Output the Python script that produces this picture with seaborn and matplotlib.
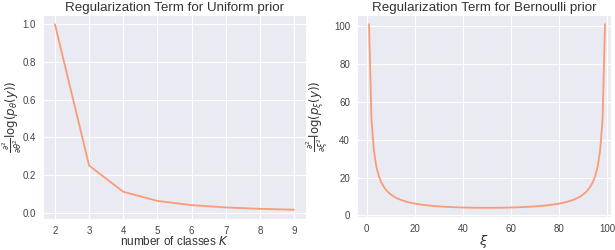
import matplotlib
matplotlib.use("Agg")
import matplotlib.pyplot as plt
import seaborn as sns
import pandas as pd

# left panel: number of classes vs regularization term
classes_k = [2, 3, 4, 5, 6, 7, 8, 9]
uniform_term = [1.0, 0.25, 0.111, 0.0625, 0.04, 0.0278, 0.0204, 0.0156]

# right panel: xi (1..99) vs regularization term
xi = list(range(1, 100))
bernoulli_term = [
    101.01, 51.02, 34.36, 26.04, 21.05, 17.73, 15.36, 13.59, 12.21, 11.11,
    10.21, 9.47, 8.84, 8.31, 7.84, 7.44, 7.09, 6.78, 6.50, 6.25,
    6.03, 5.83, 5.65, 5.48, 5.33, 5.20, 5.07, 4.96, 4.86, 4.76,
    4.68, 4.60, 4.52, 4.46, 4.40, 4.34, 4.29, 4.24, 4.20, 4.17,
    4.13, 4.11, 4.08, 4.06, 4.04, 4.03, 4.01, 4.01, 4.00, 4.00,
    4.00, 4.01, 4.01, 4.03, 4.04, 4.06, 4.08, 4.11, 4.13, 4.17,
    4.20, 4.24, 4.29, 4.34, 4.40, 4.46, 4.52, 4.60, 4.68, 4.76,
    4.86, 4.96, 5.07, 5.20, 5.33, 5.48, 5.65, 5.83, 6.03, 6.25,
    6.50, 6.78, 7.09, 7.44, 7.84, 8.31, 8.84, 9.47, 10.21, 11.11,
    12.21, 13.59, 15.36, 17.73, 21.05, 26.04, 34.36, 51.02, 101.01,
]

line_color = "#fa9b78"
text_color = "#333333"

sns.set_style("darkgrid")
plt.rcParams["font.family"] = ["Liberation Sans", "DejaVu Sans"]
plt.rcParams["mathtext.fontset"] = "dejavusans"

fig, (ax1, ax2) = plt.subplots(1, 2, figsize=(6.15, 2.5), dpi=100)
ax1.set_position([43 / 615, 1 - 219 / 250, 263 / 615, 204 / 250])
ax2.set_position([357 / 615, 1 - 217 / 250, 254 / 615, 202 / 250])

uni_df = pd.DataFrame({"K": classes_k, "term": uniform_term})
sns.lineplot(data=uni_df, x="K", y="term", ax=ax1, color=line_color, linewidth=1.3)
ax1.set_title("Regularization Term for Uniform prior", fontsize=9.6, pad=3, color=text_color)
ax1.set_xlabel(r"number of classes $K$", fontsize=8.5, labelpad=-1, color=text_color)
ax1.set_ylabel(r"$\frac{\partial^2}{\partial\theta^2}\log(p_\theta(y))$", fontsize=8.5, color=text_color)
ax1.yaxis.set_label_coords(-0.072, 0.5)
ax1.set_xticks(classes_k)
ax1.set_yticks([0.0, 0.2, 0.4, 0.6, 0.8, 1.0])

ber_df = pd.DataFrame({"xi": xi, "term": bernoulli_term})
sns.lineplot(data=ber_df, x="xi", y="term", ax=ax2, color=line_color, linewidth=1.3)
ax2.set_title("Regularization Term for Bernoulli prior", fontsize=9.6, pad=3, color=text_color)
ax2.set_xlabel(r"$\xi$", fontsize=9.5, labelpad=-1, color=text_color)
ax2.set_ylabel(r"$\frac{\partial^2}{\partial\xi^2}\log(p_\xi(y))$", fontsize=8.5, color=text_color)
ax2.yaxis.set_label_coords(-0.106, 0.5)
ax2.set_xticks([0, 20, 40, 60, 80, 100])
ax2.set_yticks([0, 20, 40, 60, 80, 100])
ax2.set_xlim(-4, 101.5)

for ax in (ax1, ax2):
    ax.tick_params(labelsize=7, pad=1.5, colors="#444444")

fig.savefig("out.png", dpi=100)
